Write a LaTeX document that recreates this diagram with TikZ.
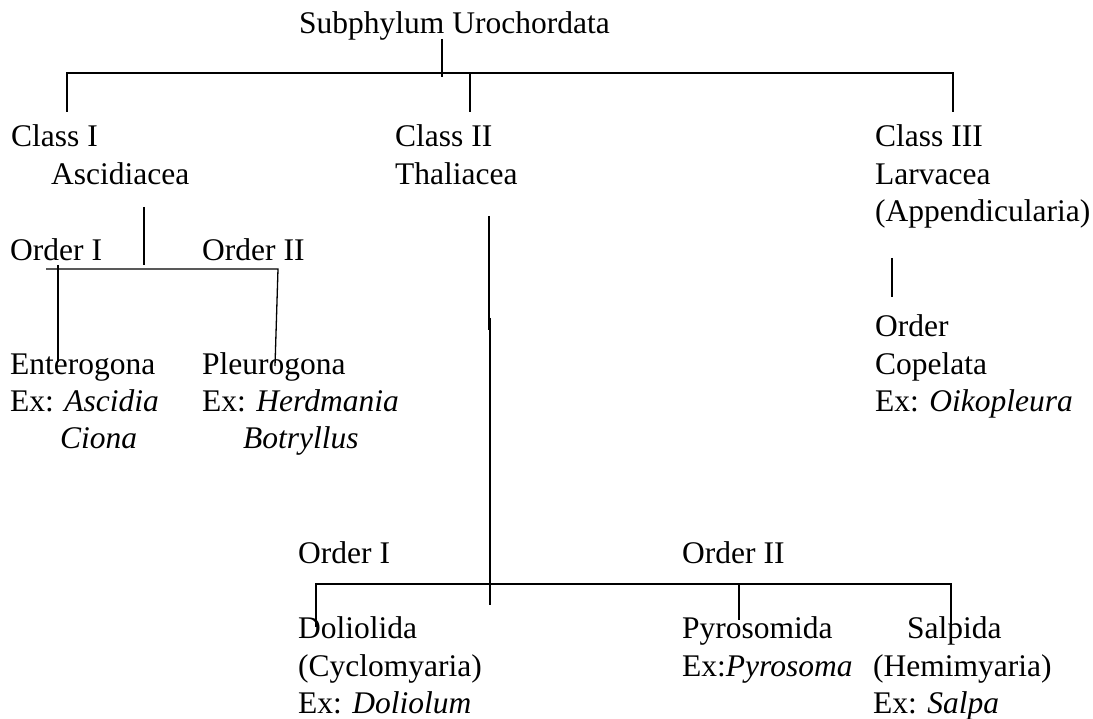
\documentclass[tikz,border=0pt]{standalone}
\usepackage{fontspec}
\setmainfont{Liberation Serif}
\begin{document}
\begin{tikzpicture}[x=1pt,y=-1pt,
  lbl/.style={anchor=base west, inner sep=0pt, font=\fontsize{31.5}{37.5}\selectfont},
  ln/.style={line width=1.3pt}]
\useasboundingbox[fill=white] (0,0) rectangle (1093,719);
% texts
\node[lbl] (title) at (299,34) {Subphylum Urochordata};
\node[lbl] (c1) at (11,147) {Class I};
\node[lbl] (c1n) at (51,185) {Ascidiacea};
\node[lbl] (c2) at (395,147) {Class II};
\node[lbl] (c2n) at (395,185) {Thaliacea};
\node[lbl] (c3) at (875,147) {Class III};
\node[lbl] (c3n) at (875,185) {Larvacea};
\node[lbl] (c3a) at (875,222) {(Appendicularia)};
\node[lbl] (a1) at (10,261) {Order I};
\node[lbl] (a2) at (202,261) {Order II};
\node[lbl] (ent) at (10,375) {Enterogona};
\node[lbl] (entex) at (10,412) {Ex: \textit{Ascidia}};
\node[lbl] (entex2) at (60,448) {\textit{Ciona}};
\node[lbl] (ple) at (202,375) {Pleurogona};
\node[lbl] (pleex) at (202,412) {Ex: \textit{Herdmania}};
\node[lbl] (pleex2) at (243,448) {\textit{Botryllus}};
\node[lbl] (lo) at (875,337) {Order};
\node[lbl] (lcop) at (875,375) {Copelata};
\node[lbl] (lex) at (875,412) {Ex: \textit{Oikopleura}};
\node[lbl] (t1) at (298,563) {Order I};
\node[lbl] (t2) at (682,563) {Order II};
\node[lbl] (dol) at (298,638) {Doliolida};
\node[lbl] (dolb) at (298,676) {(Cyclomyaria)};
\node[lbl] (dolex) at (298,713) {Ex: \textit{Doliolum}};
\node[lbl] (pyr) at (682,638) {Pyrosomida};
\node[lbl] (pyrex) at (682,676) {Ex:\textit{Pyrosoma}};
\node[lbl] (sal) at (907,638) {Salpida};
\node[lbl] (salb) at (873,676) {(Hemimyaria)};
\node[lbl] (salex) at (873,713) {Ex: \textit{Salpa}};
% connector points
\coordinate (ts1) at (442,39);
\coordinate (ts2) at (442,77);
\coordinate (tbL) at (67,73);
\coordinate (tbR) at (953,73);
\coordinate (d1) at (67,112);
\coordinate (d2a) at (470,73);
\coordinate (d2) at (470,112);
\coordinate (d3) at (953,112);
% Ascidiacea
\coordinate (as1) at (144,207);
\coordinate (as2) at (144,265);
\coordinate (abL) at (46,269);
\coordinate (abR) at (278,269);
\coordinate (aL1) at (58,265);
\coordinate (aL2) at (58,362);
\coordinate (aR2) at (275,366);
% Thaliacea
\coordinate (th1) at (489,216);
\coordinate (th2) at (489,330);
\coordinate (th3) at (490,318);
\coordinate (th4) at (490,605);
\coordinate (tbbL) at (316,584);
\coordinate (tbbR) at (951,584);
\coordinate (tdL) at (316,627);
\coordinate (tdPa) at (739,584);
\coordinate (tdP) at (739,620);
\coordinate (tdS) at (951,630);
% Larvacea
\coordinate (lv1) at (892,258);
\coordinate (lv2) at (892,297);
% lines
\draw[ln] (ts1) -- (ts2);
\draw[ln] (d1) -- (tbL) -- (tbR) -- (d3);
\draw[ln] (d2a) -- (d2);
\draw[ln] (as1) -- (as2);
\draw[ln] (abL) -- (abR) -- (aR2);
\draw[ln] (aL1) -- (aL2);
\draw[ln] (th1) -- (th2);
\draw[ln] (th3) -- (th4);
\draw[ln] (tdL) -- (tbbL) -- (tbbR) -- (tdS);
\draw[ln] (tdPa) -- (tdP);
\draw[ln] (lv1) -- (lv2);
\end{tikzpicture}
\end{document}
